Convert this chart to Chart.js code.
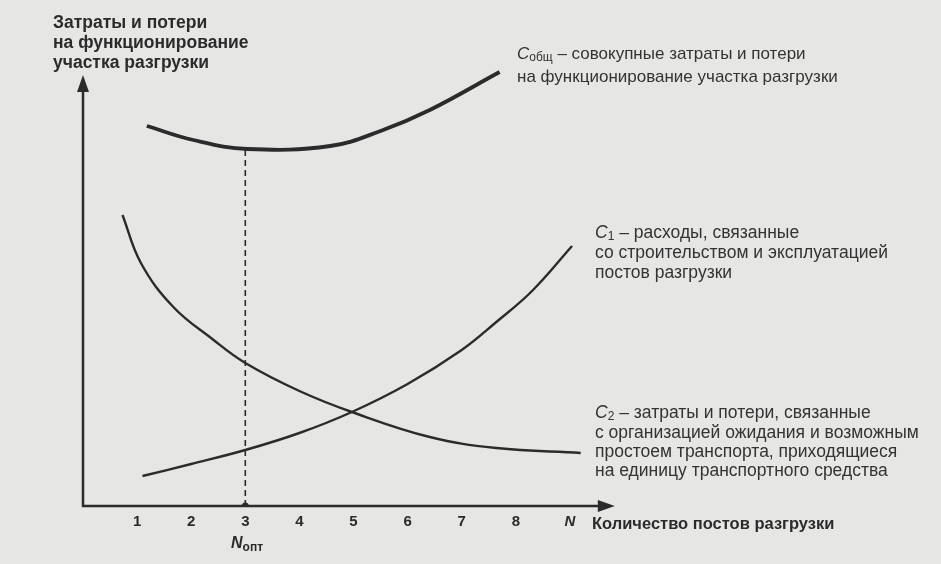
<!DOCTYPE html>
<html>
<head>
<meta charset="utf-8">
<script src="https://cdn.jsdelivr.net/npm/chart.js@4/dist/chart.umd.min.js"></script>
<style>
  html, body { margin: 0; padding: 0; background: #e6e6e4; }
  #wrap { width: 941px; height: 564px; position: relative; }
</style>
</head>
<body>
<div id="wrap"><canvas id="c" width="941" height="564"></canvas></div>
<script>
// Tick positions and labels on the horizontal axis
const TICK_VALUES = [1, 2, 3, 4, 5, 6, 7, 8, 9];
const TICK_LABELS = ['1', '2', '3', '4', '5', '6', '7', '8', 'N'];

// Собщ — total costs (x, y)
const TOTAL_X = [1.18, 2.04, 3.04, 4.57, 5.5, 6.41, 7.70];
const TOTAL_Y = [380, 366, 357, 360, 375, 396, 434];

// C1 — construction & operation costs
const C1_X = [1.1, 2.0, 3.0, 4.0, 4.97, 6.0, 7.0, 7.64, 8.3, 9.04];
const C1_Y = [30, 42, 56, 73, 94, 122, 156, 184, 215, 260];

// C2 — waiting / idle losses
const C2_X = [0.73, 1.07, 1.67, 2.39, 3.0, 4.0, 4.97, 6.41, 7.64, 9.2];
const C2_Y = [291, 243, 199, 167, 143, 115, 94, 69, 58, 53];

// Optimal number of posts
const N_OPT = [3];
const N_OPT_Y = [0, 357];

const pts = (xs, ys) => xs.map((x, i) => ({ x, y: ys[i] }));
const INK = '#2b2b2b';

const axesPlugin = {
  id: 'axesArrows',
  beforeDatasetsDraw(chart) {
    const { ctx, scales: { x, y } } = chart;
    const x0 = x.getPixelForValue(0), y0 = y.getPixelForValue(0);
    const xEnd = x.getPixelForValue(9.83), yEnd = y.getPixelForValue(431);
    ctx.save();
    ctx.strokeStyle = INK; ctx.fillStyle = INK; ctx.lineWidth = 2.5;
    ctx.beginPath();
    ctx.moveTo(x0, yEnd + 12); ctx.lineTo(x0, y0); ctx.lineTo(xEnd - 12, y0);
    ctx.stroke();
    ctx.beginPath();
    ctx.moveTo(x0, yEnd); ctx.lineTo(x0 - 6, yEnd + 17); ctx.lineTo(x0 + 6, yEnd + 17); ctx.closePath(); ctx.fill();
    ctx.beginPath();
    ctx.moveTo(xEnd, y0); ctx.lineTo(xEnd - 17, y0 - 6); ctx.lineTo(xEnd - 17, y0 + 6); ctx.closePath(); ctx.fill();
    ctx.restore();
  }
};

function subText(ctx, x, y, main, sub, mainFont, subFont, rest, restFont) {
  ctx.font = mainFont; ctx.fillText(main, x, y);
  let w = ctx.measureText(main).width;
  ctx.font = subFont; ctx.fillText(sub, x + w, y + 4);
  w += ctx.measureText(sub).width;
  if (rest) { ctx.font = restFont; ctx.fillText(rest, x + w, y); }
}

const textPlugin = {
  id: 'labels',
  afterDraw(chart) {
    const { ctx } = chart;
    ctx.save();
    ctx.fillStyle = INK;
    ctx.textBaseline = 'middle';
    ctx.textAlign = 'left';
    const F = '"Liberation Sans", Arial, sans-serif';
    // y axis title
    ctx.font = 'bold 17.5px ' + F;
    ctx.fillText('Затраты и потери', 53, 23);
    ctx.fillText('на функционирование', 53, 43);
    ctx.fillText('участка разгрузки', 53, 63);
    // x axis title
    ctx.font = 'bold 16.5px ' + F;
    ctx.fillText('Количество постов разгрузки', 592, 524);
    // N opt
    subText(ctx, 231, 544, 'N', 'опт', 'italic bold 16px ' + F, 'bold 12px ' + F);
    // annotation labels
    ctx.fillStyle = '#333333';
    const nf = '17.5px ' + F;
    const cf = 'italic 17.5px ' + F, sf = '12px ' + F;
    ctx.font = '17px ' + F;
    subText(ctx, 517, 54, 'C', 'общ', 'italic 17px ' + F, sf, ' – совокупные затраты и потери', '17px ' + F);
    ctx.font = '17px ' + F;
    ctx.fillText('на функционирование участка разгрузки', 517, 77);
    subText(ctx, 595, 233, 'C', '1', cf, sf, ' – расходы, связанные', nf);
    ctx.font = nf;
    ctx.fillText('со строительством и эксплуатацией', 595, 253);
    ctx.fillText('постов разгрузки', 595, 273);
    subText(ctx, 595, 413, 'C', '2', cf, sf, ' – затраты и потери, связанные', nf);
    ctx.font = nf;
    ctx.fillText('с организацией ожидания и возможным', 595, 433);
    ctx.fillText('простоем транспорта, приходящиеся', 595, 452);
    ctx.fillText('на единицу транспортного средства', 595, 471);
    ctx.restore();
  }
};

new Chart(document.getElementById('c'), {
  type: 'scatter',
  data: {
    datasets: [
      { label: 'Cобщ', data: pts(TOTAL_X, TOTAL_Y), showLine: true, borderColor: INK, borderWidth: 3.8, pointRadius: 0, tension: 0.4 },
      { label: 'C1', data: pts(C1_X, C1_Y), showLine: true, borderColor: INK, borderWidth: 2.4, pointRadius: 0, tension: 0.4 },
      { label: 'C2', data: pts(C2_X, C2_Y), showLine: true, borderColor: INK, borderWidth: 2.4, pointRadius: 0, tension: 0.4 },
      { label: 'Nопт', data: N_OPT_Y.map(y => ({ x: N_OPT[0], y })), showLine: true, borderColor: INK, borderWidth: 1.6, borderDash: [6, 4], pointRadius: [3.5, 0], pointBackgroundColor: INK, pointBorderWidth: 0 }
    ]
  },
  options: {
    responsive: false,
    animation: false,
    layout: { padding: { left: 83, top: 66, right: 317, bottom: 28 } },
    plugins: { legend: { display: false }, tooltip: { enabled: false } },
    scales: {
      x: {
        type: 'linear', min: 0, max: 10,
        grid: { display: false, drawTicks: false },
        border: { display: false },
        afterBuildTicks: s => { s.ticks = TICK_VALUES.map(v => ({ value: v })); },
        afterFit: s => { s.height = 30; },
        ticks: {
          padding: 7,
          color: INK,
          autoSkip: false,
          maxRotation: 0,
          font: ctx => ({ family: '"Liberation Sans", Arial, sans-serif', size: 15, weight: 'bold', style: TICK_LABELS[ctx.index] === 'N' ? 'italic' : 'normal' }),
          callback: (v, i) => TICK_LABELS[i]
        }
      },
      y: { display: false, min: 0, max: 440 }
    }
  },
  plugins: [axesPlugin, textPlugin]
});
</script>
</body>
</html>
